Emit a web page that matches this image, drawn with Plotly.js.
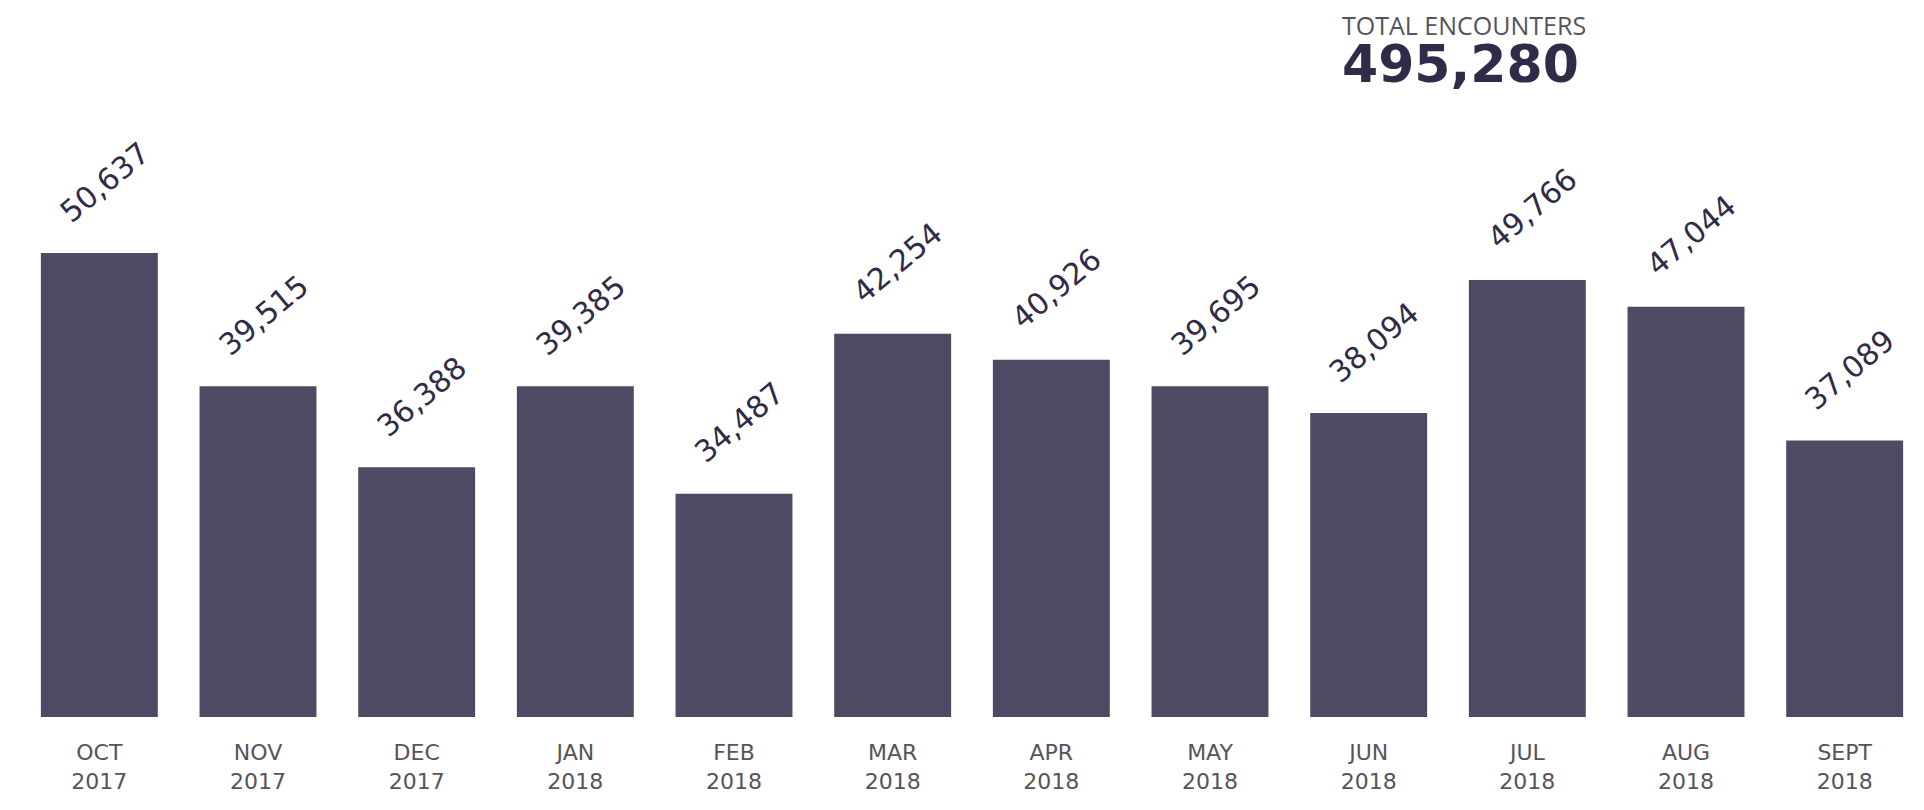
<!DOCTYPE html>
<html>
<head>
<meta charset="utf-8">
<script src="https://cdn.plot.ly/plotly-3.0.1.min.js"></script>
<style>
  html, body { margin: 0; padding: 0; background: #ffffff; }
  #chart { width: 1924px; height: 810px; }
</style>
</head>
<body>
<div id="chart"></div>
<script>
// Month / year categories
const months = ["OCT", "NOV", "DEC", "JAN", "FEB", "MAR", "APR", "MAY", "JUN", "JUL", "AUG", "SEPT"];
const years  = ["2017", "2017", "2017", "2018", "2018", "2018", "2018", "2018", "2018", "2018", "2018", "2018"];

// Handwritten encounter counts written above each bar
const encounters = [50637, 39515, 36388, 39385, 34487, 42254, 40926, 39695, 38094, 49766, 47044, 37089];

// Bar lengths as drawn in the picture (percent of the tallest bar, OCT 2017)
const drawnHeights = [100, 71.3, 53.8, 71.3, 48.1, 82.6, 77.0, 71.3, 65.5, 94.2, 88.4, 59.6];

// Headline total
const totalLabel = "TOTAL ENCOUNTERS";
const totalValue = 495280;

const fmt = n => n.toLocaleString("en-US");
const cats = months.map((m, i) => m + "<br>" + years[i]);

const trace = {
  type: "bar",
  x: cats,
  y: drawnHeights,
  marker: { color: "#4d4a63", line: { width: 0 } },
  hoverinfo: "skip",
  cliponaxis: false
};

const handFont = { family: "DejaVu Sans", size: 30, color: "#2f2b49" };

const annotations = cats.map((c, i) => ({
  x: c,
  y: drawnHeights[i],
  xref: "x",
  yref: "y",
  text: fmt(encounters[i]),
  showarrow: false,
  textangle: -40,
  xanchor: "center",
  yanchor: "middle",
  xshift: 5,
  yshift: 71,
  font: handFont
}));

annotations.push({
  xref: "paper", yref: "paper",
  x: 0.6935, y: 1.533,
  xanchor: "left", yanchor: "top",
  align: "left",
  text: "<span style='font-family:Open Sans;font-size:25px;color:#57535e;font-weight:normal'>" + totalLabel +
        "</span><br><span style='font-size:52px'>" + fmt(totalValue) + "</span>",
  showarrow: false,
  font: { family: "DejaVu Sans", size: 36, color: "#2f2b49", weight: "bold" }
});

const layout = {
  width: 1924,
  height: 810,
  margin: { l: 20, r: 0, t: 253, b: 93, pad: 0 },
  paper_bgcolor: "#ffffff",
  plot_bgcolor: "#ffffff",
  bargap: 0.263,
  showlegend: false,
  xaxis: {
    type: "category",
    showgrid: false,
    zeroline: false,
    showline: false,
    ticks: "",
    ticklabelstandoff: 20,
    tickfont: { family: "DejaVu Sans", size: 22, color: "#57535e" },
    fixedrange: true
  },
  yaxis: {
    range: [0, 100],
    showgrid: false,
    zeroline: false,
    showline: false,
    showticklabels: false,
    ticks: "",
    fixedrange: true
  },
  annotations: annotations
};

Plotly.newPlot("chart", [trace], layout, { displayModeBar: false, staticPlot: true });
</script>
</body>
</html>
